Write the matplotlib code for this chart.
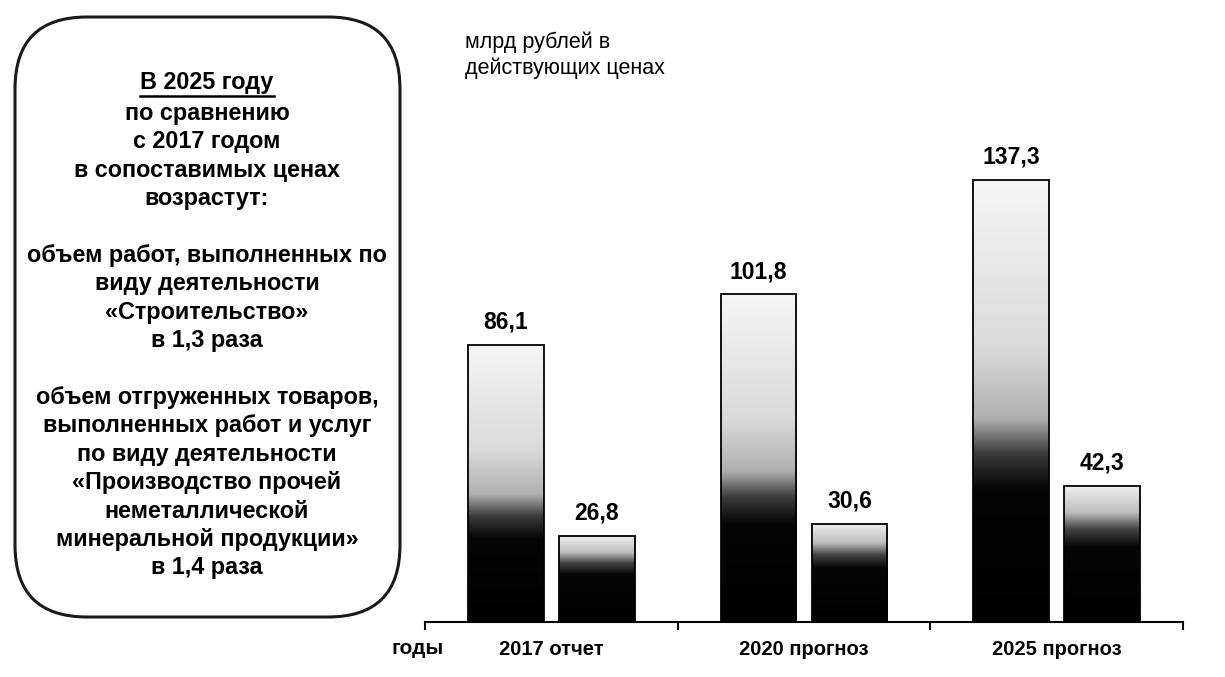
import numpy as np
import matplotlib
matplotlib.use('Agg')
import matplotlib.pyplot as plt
from matplotlib.colors import LinearSegmentedColormap
from matplotlib.patches import FancyBboxPatch

plt.rcParams['font.family'] = ['Liberation Sans', 'DejaVu Sans']

# data
years = ['2017 отчет', '2020 прогноз', '2025 прогноз']
construction = [86.1, 101.8, 137.3]     # Строительство
minerals = [26.8, 30.6, 42.3]           # прочая неметаллическая минеральная продукция
unit_label = 'млрд рублей в\nдействующих ценах'
box_head = 'В 2025 году'
box_body = ('по сравнению\nс 2017 годом\nв сопоставимых ценах\nвозрастут:\n\n'
            'объем работ, выполненных по\nвиду деятельности\n«Строительство»\nв 1,3 раза\n\n'
            'объем отгруженных товаров,\nвыполненных работ и услуг\nпо виду деятельности\n'
            '«Производство прочей\nнеметаллической\nминеральной продукции»\nв 1,4 раза')

W, H = 1225, 677
fig = plt.figure(figsize=(W / 100, H / 100), dpi=100)
ax = fig.add_axes([425 / W, 1 - 622 / H, (1183 - 425) / W, 515 / H])

# dithered white->black fill of the original, approximated by vertical gradients
cm_big = LinearSegmentedColormap.from_list('big', [
    (0.0, '#000000'), (0.30, '#050505'), (0.38, '#3a3a3a'), (0.46, '#b0b0b0'),
    (0.62, '#dadada'), (1.0, '#f6f6f6')])
cm_small = LinearSegmentedColormap.from_list('small', [
    (0.0, '#000000'), (0.55, '#060606'), (0.68, '#444444'), (0.80, '#bdbdbd'),
    (1.0, '#f0f0f0')])
grad = np.linspace(0, 1, 256).reshape(-1, 1)

x = np.arange(len(years))
off, width = 0.18, 0.30
for vals, dx, cmap in [(construction, -off, cm_big), (minerals, off, cm_small)]:
    bars = ax.bar(x + dx, vals, width=width, facecolor='none', edgecolor='black',
                  linewidth=1.3, zorder=3)
    for b, v in zip(bars, vals):
        img = ax.imshow(grad, cmap=cmap, origin='lower', aspect='auto',
                        extent=[b.get_x(), b.get_x() + b.get_width(), 0, v], zorder=2)
        img.set_clip_path(b)
        ax.annotate(f'{v:.1f}'.replace('.', ','), (b.get_x() + b.get_width() / 2, v),
                    xytext=(0, 8), textcoords='offset points', ha='center', va='bottom',
                    fontsize=16.5, fontweight='bold')

ax.set_xlim(-0.5, 2.5)
ax.set_ylim(0, 160)
for s in ['top', 'right', 'left']:
    ax.spines[s].set_visible(False)
ax.spines['bottom'].set_linewidth(1.5)
ax.set_yticks([])
ax.set_xticks([-0.5, 0.5, 1.5, 2.5])
ax.set_xticklabels([])
ax.tick_params(axis='x', which='major', direction='out', length=6, width=1.5)
ax.set_xticks(x, minor=True)
ax.set_xticklabels(years, minor=True, fontsize=14.5, fontweight='bold')
ax.tick_params(axis='x', which='minor', length=0, pad=13)

# overlay in pixel coordinates for the text box and labels
ov = fig.add_axes([0, 0, 1, 1], zorder=-1)
ov.set_xlim(0, W)
ov.set_ylim(H, 0)
ov.axis('off')
ov.add_patch(FancyBboxPatch((15, 17), 385, 600, boxstyle='round,pad=0,rounding_size=72',
                            facecolor='white', edgecolor='#1a1a1a', linewidth=2.2))
head = ov.text(207, 83, box_head, ha='center', va='center', fontsize=16.8, fontweight='bold')
ov.text(207, 102, box_body, ha='center', va='top', fontsize=16.8, fontweight='bold',
        linespacing=1.30, multialignment='center')
fig.canvas.draw()
bb = head.get_window_extent().transformed(ov.transData.inverted())
ov.plot([bb.x0, bb.x1], [bb.y0 + 1, bb.y0 + 1], color='black', lw=1.8)

ov.text(465, 55, unit_label, ha='left', va='center', fontsize=15.5, linespacing=1.29)
ov.text(418, 648, 'годы', ha='center', va='center', fontsize=15, fontweight='bold')

fig.savefig('out.png', dpi=100)
